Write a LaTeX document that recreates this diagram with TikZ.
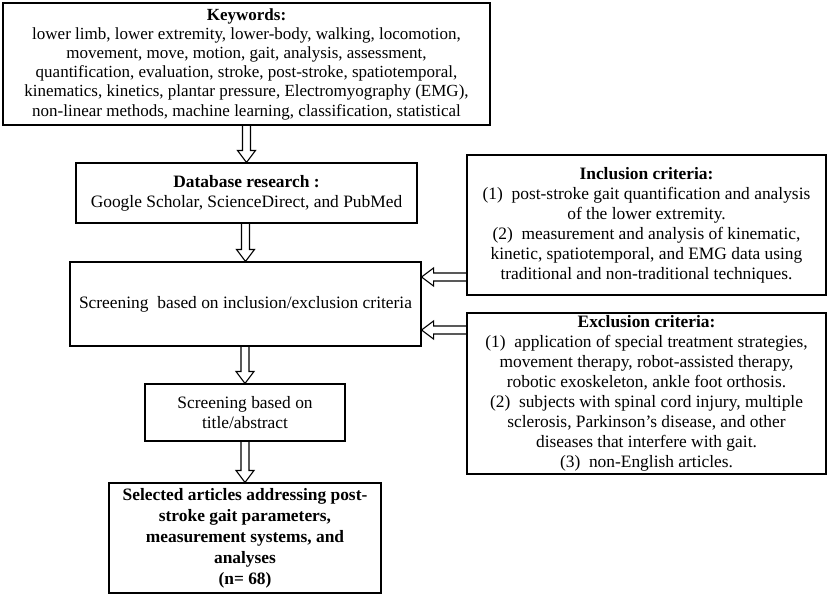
\documentclass[tikz,border=0pt]{standalone}
\usepackage{fontspec}
\setmainfont{Liberation Serif}
\usepackage{tikz}
\usetikzlibrary{calc}

% hollow arrow going down from node #1 to node #2
\newcommand{\hollowdown}[2]{%
  \draw ($(#2.north |- #1.south)+(-4,0)$) -- ($(#2.north)+(-4,12)$) -- ($(#2.north)+(-9,12)$) -- (#2.north)
        -- ($(#2.north)+(9,12)$) -- ($(#2.north)+(4,12)$) -- ($(#2.north |- #1.south)+(4,0)$);}
% hollow arrow going left from node #1 to node #2, at the height of coordinate #3
\newcommand{\hollowleft}[3]{%
  \draw ($(#1.west |- #3)+(0,4)$) -- ($(#2.east |- #3)+(12,4)$) -- ($(#2.east |- #3)+(12,9)$) -- (#2.east |- #3)
        -- ($(#2.east |- #3)+(12,-9)$) -- ($(#2.east |- #3)+(12,-4)$) -- ($(#1.west |- #3)+(0,-4)$);}

\begin{document}
\begin{tikzpicture}[x=1pt,y=1pt,line width=1.1pt]
                \tikzstyle{box}=[rectangle,draw=black,fill=white,align=center,inner sep=1pt,font=\fontsize{17.4}{20}\selectfont]
                \useasboundingbox (0,0) rectangle (829,-597);

                \node[box,minimum width=487pt,minimum height=122pt,font=\fontsize{17}{19.2}\selectfont] (kw) at (246.5,-64)
                        {\textbf{Keywords:}\\
                         lower limb, lower extremity, lower-body, walking, locomotion,\\
                         movement, move, motion, gait, analysis, assessment,\\
                         quantification, evaluation, stroke, post-stroke, spatiotemporal,\\
                         kinematics, kinetics, plantar pressure, Electromyography (EMG),\\
                         non-linear methods, machine learning, classification, statistical};
                \node[box,minimum width=341pt,minimum height=60pt] (db) at (246.5,-193)
                        {\textbf{Database research :}\\Google Scholar, ScienceDirect, and PubMed};
                \node[box,minimum width=351pt,minimum height=84pt] (scr) at (245.5,-304)
                        {Screening \ based on inclusion/exclusion criteria};
                \node[box,minimum width=200pt,minimum height=57pt] (ttl) at (245,-412.5)
                        {Screening based on\\title/abstract};
                \node[box,minimum width=272pt,minimum height=110pt,font=\fontsize{17.4}{21}\selectfont\bfseries] (sel) at (245,-538)
                        {Selected articles addressing post-\\stroke gait parameters,\\measurement systems, and\\analyses\\(n= 68)};
                \node[box,minimum width=359pt,minimum height=140pt] (inc) at (646.5,-225)
                        {\textbf{Inclusion criteria:}\\
                         (1)\ \ post-stroke gait quantification and analysis\\
                         of the lower extremity.\\
                         (2)\ \ measurement and analysis of kinematic,\\
                         kinetic, spatiotemporal, and EMG data using\\
                         traditional and non-traditional techniques.};
                \node[box,minimum width=359pt,minimum height=161pt] (exc) at (646.5,-393.5)
                        {\textbf{Exclusion criteria:}\\
                         (1)\ \ application of special treatment strategies,\\
                         movement therapy, robot-assisted therapy,\\
                         robotic exoskeleton, ankle foot orthosis.\\
                         (2)\ \ subjects with spinal cord injury, multiple\\
                         sclerosis, Parkinson’s disease, and other\\
                         diseases that interfere with gait.\\
                         (3)\ \ non-English articles.};

                \foreach \from/\to in {kw/db, db/scr, scr/ttl, ttl/sel}
                        \hollowdown{\from}{\to};

                \coordinate (incY) at (0,-277);
                \coordinate (excY) at (0,-330);
                \hollowleft{inc}{scr}{incY}
                \hollowleft{exc}{scr}{excY}
\end{tikzpicture}
\end{document}
